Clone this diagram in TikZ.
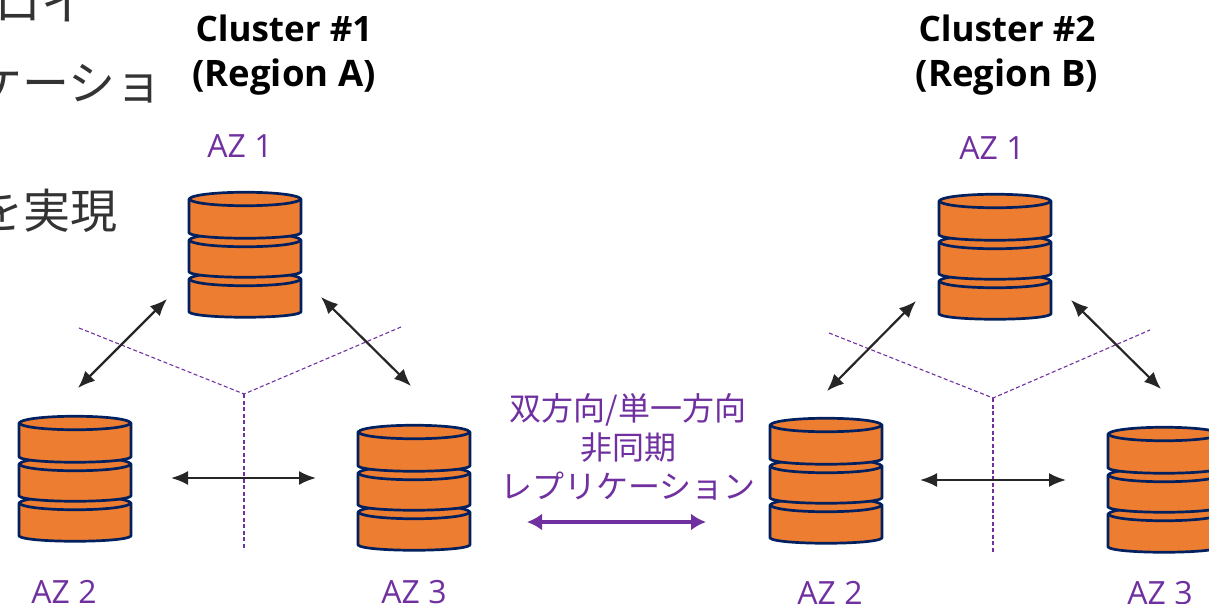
\documentclass[tikz,border=0pt]{standalone}
\usepackage{fontspec}
\setmainfont{Open Sans}
\newfontfamily\jpfont{Noto Sans CJK JP}
\usetikzlibrary{arrows.meta}
\definecolor{dbfill}{HTML}{ED7D31}
\definecolor{dbline}{HTML}{002060}
\definecolor{azpurple}{HTML}{7030A0}
\definecolor{bodygray}{HTML}{333333}
\tikzset{
  x=1pt,y=-1pt,
  tierstyle/.style={draw=dbline,fill=dbfill,line width=2.7pt,line join=round},
  arcstyle/.style={draw=dbline,line width=2.7pt},
  dbstack/.pic={
    \foreach \t/\h in {80/33,41/32,0/34}{
      \begin{scope}[yshift=-\t pt]
      \path[tierstyle] (-56,0) -- (-56,\h) .. controls (-50,\h+7) and (50,\h+7) .. (56,\h) -- (56,0)
        .. controls (50,-9) and (-50,-9) .. (-56,0) -- cycle;
      \path[arcstyle] (-56,0) .. controls (-50,9) and (50,9) .. (56,0);
      \end{scope}
    }
  },
  linkarrow/.style={{Latex[length=17pt,width=14pt]}-{Latex[length=17pt,width=14pt]},draw=black!85,line width=2.2pt},
  reparrow/.style={{Latex[length=15pt,width=17pt]}-{Latex[length=15pt,width=17pt]},draw=azpurple,line width=4.6pt},
  divider/.style={draw=azpurple,line width=1.1pt,dash pattern=on 4pt off 2.5pt},
  clusterlabel/.style={font=\fontsize{35}{45}\selectfont\bfseries,align=center,text=black,inner sep=0pt},
  azlabel/.style={font=\fontsize{32}{34}\selectfont,text=azpurple,inner sep=0pt},
  replabel/.style={font=\jpfont\fontsize{32}{39}\selectfont,text=azpurple,align=center,inner sep=0pt},
  bodytext/.style={font=\jpfont\fontsize{47}{47}\selectfont,text=bodygray,inner sep=0pt,anchor=east},
}
\begin{document}
\begin{tikzpicture}
\useasboundingbox (0,0) rectangle (1209,604);
\clip (0,0) rectangle (1209,604);
% clipped body text
\node[bodytext] (t1) at (89,3) {ロイ};
\node[bodytext] (t2) at (163,83) {ケーショ};
\node[bodytext] (t3) at (118,211) {を実現};
% titles
\node[clusterlabel] (c1) at (284,55.5) {Cluster \#1\\{\fontsize{36.5}{45}\selectfont (Region A)}};
\node[clusterlabel] (c2) at (1007,55.5) {Cluster \#2\\{\fontsize{36.5}{45}\selectfont (Region B)}};
% dividers
\coordinate (ah) at (244,394); \coordinate (al) at (79,328); \coordinate (ar) at (401,327); \coordinate (ab) at (244,550);
\coordinate (bh) at (993,398); \coordinate (bl) at (829,333); \coordinate (br) at (1150,330); \coordinate (bb) at (993,552);
\draw[divider] (al) -- (ah) -- (ar);
\draw[divider] (ah) -- (ab);
\draw[divider] (bl) -- (bh) -- (br);
\draw[divider] (bh) -- (bb);
% databases
\pic at (245,199) {dbstack};
\pic at (75,423) {dbstack};
\pic at (414,432) {dbstack};
\pic at (995,201) {dbstack};
\pic at (826,425) {dbstack};
\pic at (1164,434) {dbstack};
% AZ labels
\node[azlabel] (a1l) at (240,146) {AZ 1};
\node[azlabel] (a2l) at (64,592) {AZ 2};
\node[azlabel] (a3l) at (414,592) {AZ 3};
\node[azlabel] (b1l) at (992,148) {AZ 1};
\node[azlabel] (b2l) at (830,593) {AZ 2};
\node[azlabel] (b3l) at (1160,593) {AZ 3};
% arrows
\coordinate (p1) at (167,299); \coordinate (p2) at (78,388);
\coordinate (p3) at (321,297); \coordinate (p4) at (411,386);
\coordinate (p5) at (171,478); \coordinate (p6) at (316,478);
\coordinate (q1) at (916,301); \coordinate (q2) at (827,391);
\coordinate (q3) at (1071,300); \coordinate (q4) at (1161,389);
\coordinate (q5) at (920,480); \coordinate (q6) at (1066,480);
\draw[linkarrow] (p1) -- (p2);
\draw[linkarrow] (p3) -- (p4);
\draw[linkarrow] (p5) -- (p6);
\draw[linkarrow] (q1) -- (q2);
\draw[linkarrow] (q3) -- (q4);
\draw[linkarrow] (q5) -- (q6);
% replication
\node[replabel] (rep) at (628,447) {双方向/単一方向\\非同期\\レプリケーション};
\coordinate (r1) at (527,522); \coordinate (r2) at (706,522);
\draw[reparrow] (r1) -- (r2);
\end{tikzpicture}
\end{document}
